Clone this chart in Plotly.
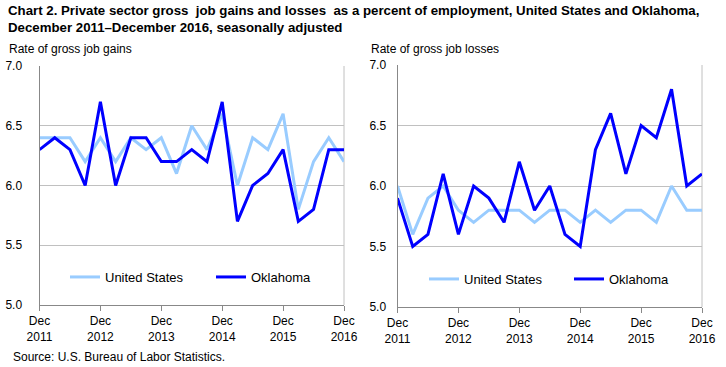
import plotly.graph_objects as go

quarters = []
for y in range(2011, 2017):
    for m in ["Mar", "Jun", "Sep", "Dec"]:
        if (y == 2011 and m != "Dec"):
            continue
        quarters.append(f"{m} {y}")
quarters = quarters[:21]

tick_cats = ["Dec 2011", "Dec 2012", "Dec 2013", "Dec 2014", "Dec 2015", "Dec 2016"]
tick_text = ["Dec<br>2011", "Dec<br>2012", "Dec<br>2013", "Dec<br>2014", "Dec<br>2015", "Dec<br>2016"]

us_gains = [6.4, 6.4, 6.4, 6.2, 6.4, 6.2, 6.4, 6.3, 6.4, 6.1, 6.5, 6.3, 6.6, 6.0, 6.4, 6.3, 6.6, 5.8, 6.2, 6.4, 6.2]
ok_gains = [6.3, 6.4, 6.3, 6.0, 6.7, 6.0, 6.4, 6.4, 6.2, 6.2, 6.3, 6.2, 6.7, 5.7, 6.0, 6.1, 6.3, 5.7, 5.8, 6.3, 6.3]
us_losses = [6.0, 5.6, 5.9, 6.0, 5.8, 5.7, 5.8, 5.8, 5.8, 5.7, 5.8, 5.8, 5.7, 5.8, 5.7, 5.8, 5.8, 5.7, 6.0, 5.8, 5.8]
ok_losses = [5.9, 5.5, 5.6, 6.1, 5.6, 6.0, 5.9, 5.7, 6.2, 5.8, 6.0, 5.6, 5.5, 6.3, 6.6, 6.1, 6.5, 6.4, 6.8, 6.0, 6.1]

US_COLOR = "#99CCFF"
OK_COLOR = "#0000FF"
W, H = 726, 367
FONT = "Liberation Sans, Arial, sans-serif"

fig = go.Figure()
fig.add_trace(go.Scatter(x=quarters, y=us_gains, mode="lines", name="United States",
                         line=dict(color=US_COLOR, width=3), xaxis="x", yaxis="y", legend="legend"))
fig.add_trace(go.Scatter(x=quarters, y=ok_gains, mode="lines", name="Oklahoma",
                         line=dict(color=OK_COLOR, width=3), xaxis="x", yaxis="y", legend="legend"))
fig.add_trace(go.Scatter(x=quarters, y=us_losses, mode="lines", name="United States",
                         line=dict(color=US_COLOR, width=3), xaxis="x2", yaxis="y2", legend="legend2"))
fig.add_trace(go.Scatter(x=quarters, y=ok_losses, mode="lines", name="Oklahoma",
                         line=dict(color=OK_COLOR, width=3), xaxis="x2", yaxis="y2", legend="legend2"))

def xaxis_cfg(x0, x1, anchor):
    return dict(domain=[x0 / W, x1 / W], anchor=anchor, type="category",
                categoryorder="array", categoryarray=quarters,
                range=[0, 20], tickmode="array", tickvals=tick_cats, ticktext=tick_text,
                ticks="outside", ticklen=5, tickcolor="#888888", showgrid=False,
                showline=True, linecolor="#888888", linewidth=1, zeroline=False,
                tickfont=dict(family=FONT, size=12, color="#000000"))

def yaxis_cfg(top, bottom, anchor, standoff):
    return dict(domain=[(H - bottom) / H, (H - top) / H], anchor=anchor,
                range=[5.0, 7.0], tickvals=[5.0, 5.5, 6.0, 6.5, 7.0],
                ticktext=["5.0", "5.5", "6.0", "6.5", "7.0"],
                showgrid=True, gridcolor="#C0C0C0", gridwidth=1,
                showline=True, linecolor="#888888", linewidth=1, zeroline=False,
                ticks="", ticklabelstandoff=standoff,
                tickfont=dict(family=FONT, size=12, color="#000000"))

fig.update_layout(
    width=W, height=H, margin=dict(l=0, r=0, t=0, b=0, autoexpand=False),
    paper_bgcolor="white", plot_bgcolor="white",
    font=dict(family=FONT, size=12, color="#000000"),
    xaxis=xaxis_cfg(39.5, 344, "y"),
    yaxis=yaxis_cfg(66, 305, "x", 14),
    xaxis2=xaxis_cfg(397.5, 702, "y2"),
    yaxis2=yaxis_cfg(65, 307, "x2", 8),
    legend=dict(orientation="h", x=65 / W, y=(H - 277) / H, xanchor="left", yanchor="middle",
                bgcolor="rgba(0,0,0,0)", font=dict(family=FONT, size=13),
                itemwidth=30, tracegroupgap=0, entrywidth=101, entrywidthmode="pixels"),
    legend2=dict(orientation="h", x=424 / W, y=(H - 279) / H, xanchor="left", yanchor="middle",
                 bgcolor="rgba(0,0,0,0)", font=dict(family=FONT, size=13),
                 itemwidth=30, tracegroupgap=0, entrywidth=100, entrywidthmode="pixels"),
    showlegend=True,
)

for xr, yr in [("x domain", "y domain"), ("x2 domain", "y2 domain")]:
    fig.add_shape(type="line", xref=xr, yref=yr, x0=1, x1=1, y0=0, y1=1,
                  line=dict(color="#C0C0C0", width=1), layer="below")

annotations = [
    dict(text="<b>Chart 2. Private sector gross  job gains and losses  as a percent of employment, United States and Oklahoma,<br>December 2011\u2013December 2016, seasonally adjusted</b>",
         x=6 / W, y=1 - 1 / H, xanchor="left", yanchor="top", align="left",
         font=dict(family=FONT, size=13.25, color="#000000")),
    dict(text="Rate of gross job gains", x=7 / W, y=(H - 49) / H, xanchor="left", yanchor="middle",
         font=dict(family=FONT, size=12, color="#000000")),
    dict(text="Rate of gross job losses", x=369 / W, y=(H - 49) / H, xanchor="left", yanchor="middle",
         font=dict(family=FONT, size=12, color="#000000")),
    dict(text="Source: U.S. Bureau of Labor Statistics.", x=11 / W, y=(H - 357) / H,
         xanchor="left", yanchor="middle", font=dict(family=FONT, size=12, color="#000000")),
]
for a in annotations:
    a.update(xref="paper", yref="paper", showarrow=False)
fig.update_layout(annotations=annotations)

fig.write_html("out.html", config={"displayModeBar": False},
               post_script="document.body.style.margin='0';")
